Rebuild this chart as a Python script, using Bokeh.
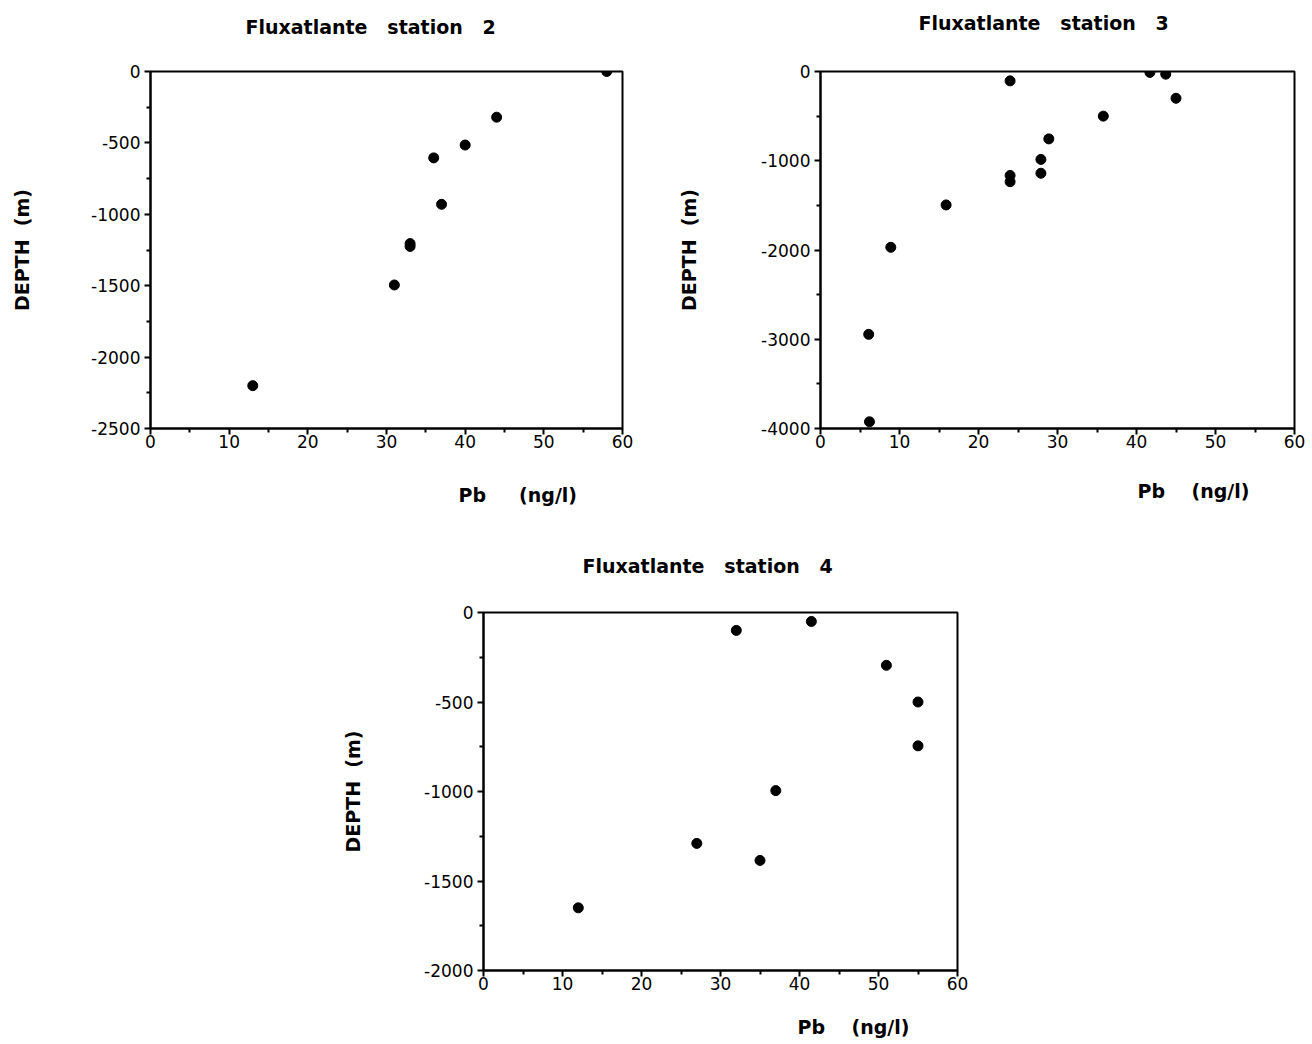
from bokeh.plotting import figure
from bokeh.models import Range1d, FixedTicker, ColumnDataSource, Title, LinearAxis
from bokeh.layouts import column, row
from bokeh.embed import file_html
from bokeh.resources import INLINE

# ---------------- data ----------------
st2_pb = [58, 44, 40, 36, 37, 33, 33, 31, 13]
st2_depth = [0, -320, -515, -605, -930, -1205, -1225, -1495, -2200]

st3_pb = [24, 41.7, 43.7, 45, 35.8, 28.9, 27.9, 27.9, 24, 24, 15.9, 8.9, 6.1, 6.2]
st3_depth = [-105, -10, -30, -300, -500, -755, -985, -1140, -1165, -1235, -1495, -1970, -2945, -3925]

st4_pb = [32, 41.5, 51, 55, 55, 37, 27, 35, 12]
st4_depth = [-100, -50, -295, -500, -745, -995, -1290, -1385, -1650]

x_ticks = [0, 10, 20, 30, 40, 50, 60]
x_minor = [5, 15, 25, 35, 45, 55]
x_tick_labels = ["0", "10", "20", "30", "40", "50", "60"]

st2_y_ticks = [0, -500, -1000, -1500, -2000, -2500]
st2_y_minor = [-250, -750, -1250, -1750, -2250]
st2_y_labels = ["0", "-500", "-1000", "-1500", "-2000", "-2500"]

st3_y_ticks = [0, -1000, -2000, -3000, -4000]
st3_y_minor = [-500, -1500, -2500, -3500]
st3_y_labels = ["0", "-1000", "-2000", "-3000", "-4000"]

st4_y_ticks = [0, -500, -1000, -1500, -2000]
st4_y_minor = [-250, -750, -1250, -1750]
st4_y_labels = ["0", "-500", "-1000", "-1500", "-2000"]

NB = "\u00a0"
titles = ["Fluxatlante" + NB * 3 + "station" + NB * 3 + "2",
          "Fluxatlante" + NB * 3 + "station" + NB * 3 + "3",
          "Fluxatlante" + NB * 3 + "station" + NB * 3 + "4"]
x_label = "Pb" + NB * 5 + "(ng/l)"
x_label_34 = "Pb" + NB * 4 + "(ng/l)"
y_label = "DEPTH" + NB * 2 + "(m)"

LABEL_FONT = "DejaVu Sans"
TICK_FONT = "DejaVu Sans"


def spacer(px):
    # blank axis used only to reserve vertical room between frame and a title
    return LinearAxis(ticker=FixedTicker(ticks=[30], minor_ticks=[]), axis_line_color=None,
                      major_tick_line_color=None, minor_tick_line_color=None,
                      major_tick_out=px, major_tick_in=0, minor_tick_out=0, minor_tick_in=0,
                      major_label_standoff=0, major_label_overrides={30: ""},
                      major_label_text_font_size="1px")


def panel(pb, depth, y_ticks, y_minor, y_labels, title, xlab, width, height,
          bl, br, bt, bb, top_gap, bottom_gap, title_offset, xlab_offset, ylab_standoff):
    ymin = min(y_ticks)
    p = figure(width=width, height=height, output_backend="svg", toolbar_location=None,
               x_range=Range1d(0, 60), y_range=Range1d(ymin, 0),
               min_border_left=bl, min_border_right=br, min_border_top=bt, min_border_bottom=bb)
    p.xgrid.visible = False
    p.ygrid.visible = False
    p.outline_line_color = "black"
    p.outline_line_width = 2
    p.background_fill_color = "white"
    p.border_fill_color = "white"

    xa = p.xaxis[0]
    xa.ticker = FixedTicker(ticks=x_ticks, minor_ticks=x_minor)
    xa.major_label_overrides = {t: l for t, l in zip(x_ticks, x_tick_labels)}
    ya = p.yaxis[0]
    ya.ticker = FixedTicker(ticks=y_ticks, minor_ticks=y_minor)
    ya.major_label_overrides = {t: l for t, l in zip(y_ticks, y_labels)}
    for ax in (xa, ya):
        ax.axis_line_width = 2
        ax.axis_line_color = "black"
        ax.major_tick_line_color = "black"
        ax.major_tick_line_width = 2
        ax.minor_tick_line_color = "black"
        ax.minor_tick_line_width = 2
        ax.major_tick_out = 6
        ax.major_tick_in = 0
        ax.minor_tick_out = 4
        ax.minor_tick_in = 0
        ax.major_label_text_font = TICK_FONT
        ax.major_label_text_font_size = "17px"
        ax.major_label_text_font_style = "normal"
        ax.major_label_text_color = "black"
    xa.major_label_standoff = 0
    ya.major_label_standoff = 4
    ya.axis_label = y_label
    ya.axis_label_text_font = LABEL_FONT
    ya.axis_label_text_font_size = "19px"
    ya.axis_label_text_font_style = "bold"
    ya.axis_label_text_color = "black"
    ya.axis_label_standoff = ylab_standoff

    src = ColumnDataSource(dict(pb=pb, depth=depth))
    p.scatter("pb", "depth", source=src, size=10, marker="circle", color="black")

    # title above the frame, with a blank spacer between
    p.add_layout(spacer(top_gap), "above")
    p.add_layout(Title(text=title, align="left", offset=title_offset, vertical_align="middle",
                       standoff=0, text_font=LABEL_FONT, text_font_size="19px",
                       text_font_style="bold", text_color="black"), "above")
    # x axis label below the ticks, shifted right as in the original
    p.add_layout(spacer(bottom_gap), "below")
    p.add_layout(Title(text=xlab, align="left", offset=xlab_offset, vertical_align="middle",
                       standoff=0, text_font=LABEL_FONT, text_font_size="19px",
                       text_font_style="bold", text_color="black"), "below")
    return p


p2 = panel(st2_pb, st2_depth, st2_y_ticks, st2_y_minor, st2_y_labels, titles[0], x_label,
           660, 520, 150, 38, 71, 90, 33, 32, 95, 308, 55)
p3 = panel(st3_pb, st3_depth, st3_y_ticks, st3_y_minor, st3_y_labels, titles[1], x_label_34,
           652, 520, 160, 18, 68, 92, 37, 28, 98, 317, 58)
p4 = panel(st4_pb, st4_depth, st4_y_ticks, st4_y_minor, st4_y_labels, titles[2], x_label_34,
           1312, 522, 483, 355, 92, 72, 35, 22, 99, 314, 57)

layout = column(row(p2, p3), p4)
open("out.html", "w").write(file_html(layout, INLINE))
